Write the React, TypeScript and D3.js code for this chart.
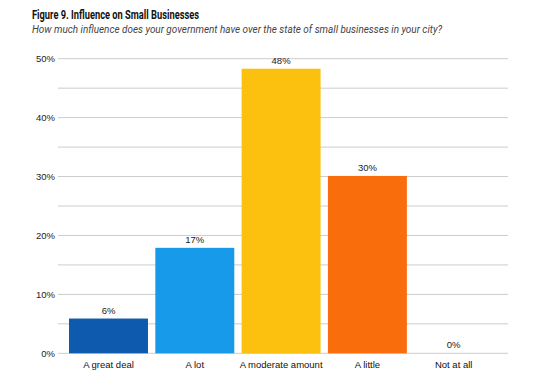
import React from 'react';
import * as d3 from 'd3';

const categories = ['A great deal', 'A lot', 'A moderate amount', 'A little', 'Not at all'];
const values = [5.9, 17.9, 48.3, 30.1, 0];
const valueLabels = ['6%', '17%', '48%', '30%', '0%'];
const colors = ['#0e5aae', '#189aea', '#fcc00e', '#f96d0d', '#cccccc'];
const gridTicks = [0, 5, 10, 15, 20, 25, 30, 35, 40, 45, 50];
const labelTicks = [0, 10, 20, 30, 40, 50];

const width = 560, height = 388;

export default function App() {
  const x = d3.scaleBand()
    .domain(categories)
    .range([64.7, 497.5])
    .paddingInner(0.085)
    .paddingOuter(0.05);

  const y = d3.scaleLinear()
    .domain([0, 50])
    .range([353.3, 58.7]);

  const axisFont = 'Arial, "Liberation Sans", sans-serif';
  const titleFont = 'Roboto, "Open Sans", sans-serif';

  return (
    <svg width={width} height={height} style={{ position: 'absolute', left: 0, top: 0, background: '#fff' }}>
      <text x={32} y={19} fontFamily={titleFont} fontWeight="bold" fontSize={12}
        textLength={167} lengthAdjust="spacingAndGlyphs" fill="#111">
        Figure 9. Influence on Small Businesses
      </text>
      <text x={32} y={33} fontFamily={titleFont} fontStyle="italic" fontSize={11.5}
        textLength={410} lengthAdjust="spacingAndGlyphs" fill="#444">
        How much influence does your government have over the state of small businesses in your city?
      </text>

      {gridTicks.map(t => (
        <line key={t} x1={58} x2={508} y1={y(t)} y2={y(t)} stroke="#cccccc" strokeWidth={1} />
      ))}
      {labelTicks.map(t => (
        <text key={t} x={55} y={y(t)} dy="0.35em" textAnchor="end"
          fontFamily={axisFont} fontSize={9.5} fill="#222">{t}%</text>
      ))}

      {categories.map((c, i) => (
        <g key={c}>
          <rect x={x(c)} y={y(values[i])} width={x.bandwidth()} height={y(0) - y(values[i])} fill={colors[i]} />
          <text x={(x(c) as number) + x.bandwidth() / 2} y={y(values[i]) - 5} textAnchor="middle"
            fontFamily={axisFont} fontSize={9.5} fill="#222">{valueLabels[i]}</text>
          <text x={(x(c) as number) + x.bandwidth() / 2} y={368} textAnchor="middle"
            fontFamily={axisFont} fontSize={9.5} fill="#111">{c}</text>
        </g>
      ))}
    </svg>
  );
}
